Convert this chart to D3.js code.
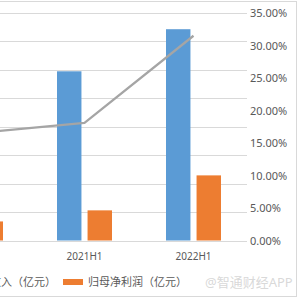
<!DOCTYPE html>
<html><head><meta charset="utf-8">
<script src="https://cdn.jsdelivr.net/npm/d3@7"></script>
<style>body{margin:0;background:#fff}svg{display:block}</style>
</head><body>
<svg id="c" width="300" height="300"></svg>
<script>
const categories = ["2020H1", "2021H1", "2022H1"];
const revenue = [40.6, 59.5, 74.3];      // 营业收入（亿元）
const netProfit = [6.7, 10.6, 22.9];     // 归母净利润（亿元）
const netMargin = [0.165, 0.181, 0.315]; // 净利率
const rightTicks = [0, 0.05, 0.10, 0.15, 0.20, 0.25, 0.30, 0.35];
const leftTicks = [0, 10, 20, 30, 40, 50, 60, 70, 80];
const seriesNames = ["营业收入（亿元）", "归母净利润（亿元）"];
const watermark = "@智通财经APP";

const svg = d3.select("#c");
const font = "'Noto Sans','Noto Sans CJK SC',sans-serif";

// border
svg.append("rect").attr("x", -10).attr("y", 1.5).attr("width", 306.5).attr("height", 295)
  .attr("fill", "none").attr("stroke", "#d9d9d9").attr("stroke-width", 1);

const x = d3.scaleBand().domain(categories).range([-79, 248]).padding(0);
const yL = d3.scaleLinear().domain([0, 80]).range([240.5, 13]);
const yR = d3.scaleLinear().domain([0, 0.35]).range([240.5, 13]);

// gridlines
svg.append("g").selectAll("line").data(leftTicks).join("line")
  .attr("x1", -10).attr("x2", 247)
  .attr("y1", d => Math.round(yL(d)) + 0.5).attr("y2", d => Math.round(yL(d)) + 0.5)
  .attr("stroke", "#d9d9d9").attr("stroke-width", 1);

const x1 = d3.scaleBand().domain([0, 1]).range([-27.5, 27.5]).paddingInner(0.2);
const colors = ["#5B9BD5", "#ED7D31"];
const data = categories.map((c, i) => ({c, vals: [revenue[i], netProfit[i]]}));

const g = svg.append("g").selectAll("g").data(data).join("g")
  .attr("transform", d => `translate(${x(d.c) + x.bandwidth() / 2},0)`);
g.selectAll("rect").data(d => d.vals).join("rect")
  .attr("x", (v, j) => x1(j)).attr("width", x1.bandwidth())
  .attr("y", v => yL(v)).attr("height", v => yL(0) - yL(v))
  .attr("fill", (v, j) => colors[j]);

// line
const line = d3.line().x((d, i) => x(categories[i]) + x.bandwidth() / 2).y(d => yR(d));
svg.append("path").datum(netMargin).attr("d", line)
  .attr("fill", "none").attr("stroke", "#A5A5A5").attr("stroke-width", 2.25)
  .attr("stroke-linejoin", "round");

// right axis
const axR = d3.axisRight(yR).tickValues(rightTicks).tickFormat(d3.format(".2%")).tickSize(0).tickPadding(0);
const gR = svg.append("g").attr("transform", "translate(250,0)").call(axR);
gR.select(".domain").remove();
gR.selectAll("text").attr("fill", "#595959").attr("font-size", 11).attr("font-family", font);

// bottom axis
const axB = d3.axisBottom(x).tickSize(0).tickPadding(0);
const gB = svg.append("g").attr("transform", "translate(0,253)").call(axB);
gB.select(".domain").remove();
gB.selectAll("text").attr("fill", "#595959").attr("font-size", 10).attr("font-family", font);

// legend
const lg = svg.append("g").attr("font-family", font).attr("font-size", 11).attr("fill", "#595959");
lg.append("rect").attr("x", -88).attr("y", 279).attr("width", 20).attr("height", 6).attr("fill", colors[0]);
lg.append("text").attr("x", 56).attr("y", 286).attr("text-anchor", "end").text(seriesNames[0]);
lg.append("rect").attr("x", 63).attr("y", 279).attr("width", 20).attr("height", 6).attr("fill", colors[1]);
lg.append("text").attr("x", 88).attr("y", 286).text(seriesNames[1]);

svg.append("text").attr("x", 205).attr("y", 287).attr("font-family", font).attr("font-size", 13)
  .attr("fill", "#d4d4d4").attr("fill-opacity", 0.9).text(watermark);
</script>
</body></html>
